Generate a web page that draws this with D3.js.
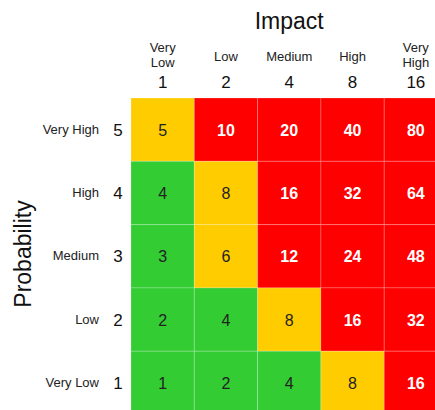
<!DOCTYPE html>
<html>
<head>
<meta charset="utf-8">
<script src="https://cdn.jsdelivr.net/npm/d3@7"></script>
<style>
  body { margin: 0; background: #fff; }
  text { font-family: "Liberation Sans", Arial, sans-serif; }
</style>
</head>
<body>
<div id="chart"></div>
<script>
// Impact columns (left to right)
var impactValues = [1, 2, 4, 8, 16];
var impactLabels = [["Very", "Low"], ["Low"], ["Medium"], ["High"], ["Very", "High"]];

// Probability rows (top to bottom)
var probValues = [5, 4, 3, 2, 1];
var probLabels = ["Very High", "High", "Medium", "Low", "Very Low"];

// risk bands: score < 5 green, 5-8 amber, above 8 red
var riskBreaks = [5, 9];
var riskColors = ["#33cc33", "#ffcc00", "#ff0000"];

var svgWidth = 435;
var svgHeight = 410;

var margin = { top: 98, left: 131 };
var cell = 63.3;

var svg = d3.select("#chart")
  .append("svg")
  .attr("width", svgWidth)
  .attr("height", svgHeight);

var x = d3.scaleBand()
  .domain(impactValues)
  .range([margin.left, margin.left + cell * impactValues.length]);

var y = d3.scaleBand()
  .domain(probValues)
  .range([margin.top, margin.top + cell * probValues.length]);

var color = d3.scaleThreshold()
  .domain(riskBreaks)
  .range(riskColors);

// build cells
var cells = [];
probValues.forEach(function(p) {
  impactValues.forEach(function(i) {
    cells.push({ prob: p, impact: i, score: p * i });
  });
});

svg.append("g").selectAll("rect")
  .data(cells)
  .enter()
  .append("rect")
  .attr("x", d => x(d.impact))
  .attr("y", d => y(d.prob))
  .attr("width", x.bandwidth())
  .attr("height", y.bandwidth())
  .attr("fill", d => color(d.score))
  .attr("stroke", "rgba(255,255,255,0.2)")
  .attr("stroke-width", 1);

svg.append("g").selectAll("text")
  .data(cells)
  .enter()
  .append("text")
  .attr("x", d => x(d.impact) + x.bandwidth() / 2)
  .attr("y", d => y(d.prob) + y.bandwidth() / 2 + 6)
  .attr("text-anchor", "middle")
  .attr("font-size", 16)
  .attr("font-weight", d => color(d.score) === riskColors[2] ? "bold" : "normal")
  .attr("fill", d => color(d.score) === riskColors[2] ? "#fff" : "#222")
  .text(d => d.score);

// column headers
var colHead = svg.append("g");
impactValues.forEach(function(v, k) {
  var cx = x(v) + x.bandwidth() / 2;
  var lines = impactLabels[k];
  var base = lines.length === 2 ? 52 : 61;
  lines.forEach(function(t, j) {
    colHead.append("text")
      .attr("x", cx)
      .attr("y", base + j * 15)
      .attr("text-anchor", "middle")
      .attr("font-size", 13)
      .attr("fill", "#222")
      .text(t);
  });
  colHead.append("text")
    .attr("x", cx)
    .attr("y", 88)
    .attr("text-anchor", "middle")
    .attr("font-size", 17)
    .attr("fill", "#111")
    .text(v);
});

svg.append("text")
  .attr("x", (x.range()[0] + x.range()[1]) / 2)
  .attr("y", 29)
  .attr("text-anchor", "middle")
  .attr("font-size", 23)
  .attr("fill", "#111")
  .text("Impact");

// row headers
var rowHead = svg.append("g");
probValues.forEach(function(v, k) {
  var cy = y(v) + y.bandwidth() / 2;
  rowHead.append("text")
    .attr("x", 99)
    .attr("y", cy + 4)
    .attr("text-anchor", "end")
    .attr("font-size", 13)
    .attr("fill", "#222")
    .text(probLabels[k]);
  rowHead.append("text")
    .attr("x", 118)
    .attr("y", cy + 6)
    .attr("text-anchor", "middle")
    .attr("font-size", 17)
    .attr("fill", "#111")
    .text(v);
});

svg.append("text")
  .attr("transform", "translate(31, 254) rotate(-90)")
  .attr("text-anchor", "middle")
  .attr("font-size", 23)
  .attr("fill", "#111")
  .text("Probability");
</script>
</body>
</html>
